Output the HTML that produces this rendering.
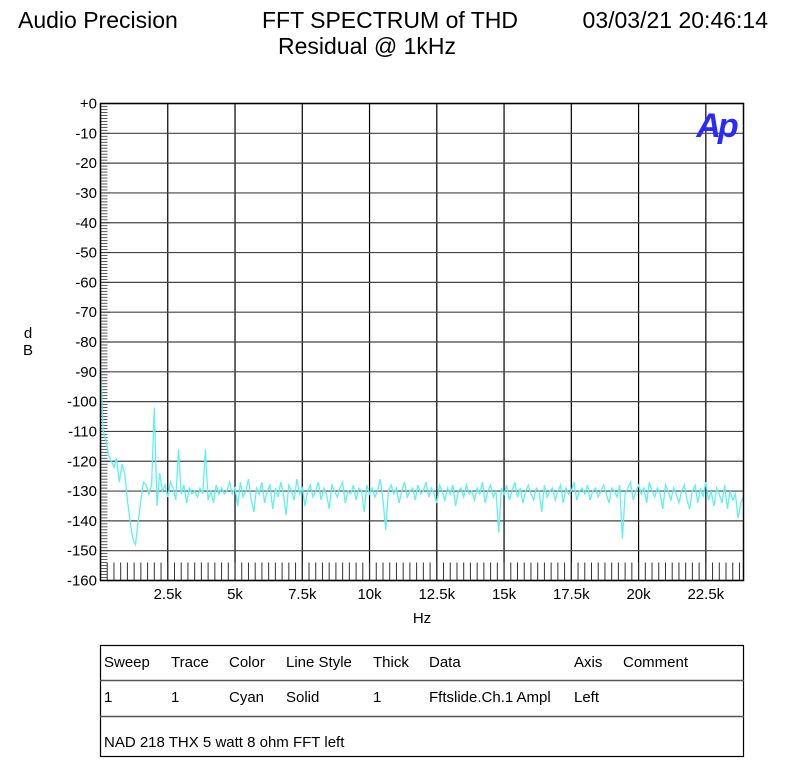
<!DOCTYPE html>
<html><head><meta charset="utf-8"><style>
body{margin:0;background:#fff;width:792px;height:775px;overflow:hidden;font-family:"Liberation Sans",sans-serif;}
svg{position:absolute;left:0;top:0}
</style></head><body>
<svg width="792" height="775" xmlns="http://www.w3.org/2000/svg">
<g font-family="Liberation Sans, sans-serif" fill="#000">
<text x="18" y="28" font-size="23">Audio Precision</text>
<text x="390" y="28" font-size="23" text-anchor="middle">FFT SPECTRUM of THD</text>
<text x="367" y="54" font-size="23" text-anchor="middle">Residual @ 1kHz</text>
<text x="768" y="28" font-size="23" text-anchor="end">03/03/21 20:46:14</text>
<text x="28" y="338" font-size="15" text-anchor="middle"><tspan x="28">d</tspan><tspan x="28" dy="17">B</tspan></text>
<text x="422" y="623" font-size="15" text-anchor="middle">Hz</text>
</g>
<g id="grid"></g>
<g id="ticks"></g>
<g id="labels" font-family="Liberation Sans, sans-serif" font-size="15" fill="#000"></g>
<path id="trace" fill="none" stroke="#5ff0f0" stroke-width="1.3"/>
<rect x="100.5" y="103.5" width="643" height="477" fill="none" stroke="#000" stroke-width="1.5"/>
<text x="716" y="137" font-family="Liberation Sans, sans-serif" font-size="34" font-weight="bold" font-style="italic" fill="#2a2aff" text-anchor="middle" letter-spacing="-3">Ap</text>
<g font-family="Liberation Sans, sans-serif" font-size="15" fill="#000">
<rect x="100.5" y="645.5" width="643" height="111" fill="none" stroke="#000" stroke-width="1.2"/>
<line x1="100" y1="680.5" x2="744" y2="680.5" stroke="#555" stroke-width="1.5"/>
<line x1="100" y1="716.5" x2="744" y2="716.5" stroke="#555" stroke-width="1.5"/>
<text y="667"><tspan x="104">Sweep</tspan><tspan x="171">Trace</tspan><tspan x="229">Color</tspan><tspan x="286">Line Style</tspan><tspan x="373">Thick</tspan><tspan x="429">Data</tspan><tspan x="574">Axis</tspan><tspan x="623">Comment</tspan></text>
<text y="702"><tspan x="104">1</tspan><tspan x="171">1</tspan><tspan x="229">Cyan</tspan><tspan x="286">Solid</tspan><tspan x="373">1</tspan><tspan x="429">Fftslide.Ch.1 Ampl</tspan><tspan x="574">Left</tspan></text>
<text x="104" y="747">NAD 218 THX 5 watt 8 ohm FFT left</text>
</g>
</svg>
<script>
const xTicks=[2500,5000,7500,10000,12500,15000,17500,20000,22500];
const xTickLabels=["2.5k","5k","7.5k","10k","12.5k","15k","17.5k","20k","22.5k"];
const yTicks=[0,-10,-20,-30,-40,-50,-60,-70,-80,-90,-100,-110,-120,-130,-140,-150,-160];
const yTickLabels=["+0","-10","-20","-30","-40","-50","-60","-70","-80","-90","-100","-110","-120","-130","-140","-150","-160"];
const freqStep=100;
const levels=[-88,-110,-113,-118,-120,-122,-119,-127,-121,-124,-133,-140,-146,-148,-140,-133,-127,-128,-131,-128,
-102,-135,-124,-130,-128,-132,-127,-129,-133,-116,-131,-128,-134,-129,-131,-130,-132,-129,-131,-116,
-133,-130,-134,-128,-131,-129,-131,-130,-127,-131,-129,-135,-127,-132,-130,-126,-133,-137,-129,-131,
-127,-134,-130,-128,-136,-129,-132,-127,-131,-138,-128,-130,-133,-126,-131,-129,-135,-130,-128,-132,
-130,-127,-133,-129,-131,-136,-128,-130,-132,-129,-127,-134,-130,-131,-128,-133,-129,-130,-137,-128,
-131,-129,-132,-130,-126,-133,-143,-130,-128,-131,-129,-134,-130,-127,-132,-130,-129,-133,-128,-131,
-130,-127,-132,-129,-131,-134,-128,-130,-133,-129,-131,-128,-135,-130,-129,-132,-128,-131,-130,-133,
-129,-131,-127,-134,-130,-128,-132,-130,-144,-129,-131,-128,-133,-130,-127,-132,-129,-134,-130,-128,
-131,-133,-129,-130,-137,-128,-132,-130,-129,-133,-130,-128,-134,-129,-131,-130,-127,-133,-130,-129,
-131,-128,-133,-130,-129,-132,-130,-128,-131,-134,-129,-130,-132,-128,-146,-131,-129,-127,-133,-130,
-128,-131,-129,-134,-127,-130,-132,-129,-131,-136,-128,-130,-133,-129,-131,-134,-130,-128,-133,-136,
-130,-128,-134,-129,-132,-127,-133,-130,-135,-129,-131,-134,-128,-136,-130,-133,-131,-139,-134,-132];
const X0=100.5,W=643,XMAX=23900,Y0=103.5,H=477,YMIN=-160,YMAX=0;
function sx(f){return X0+f/XMAX*W;}
function sy(v){return Y0+(YMAX-v)/(YMAX-YMIN)*H;}
const NS="http://www.w3.org/2000/svg";
function mk(t,a,p){const e=document.createElementNS(NS,t);for(const k in a)e.setAttribute(k,a[k]);p.appendChild(e);return e;}
const grid=document.getElementById('grid'),ticks=document.getElementById('ticks'),labels=document.getElementById('labels');
xTicks.forEach((f,i)=>{
 const l=mk('line',{x1:sx(f),x2:sx(f),y1:Y0,y2:Y0+H,stroke:'#000','stroke-width':1.2},grid);
 
 
 const t=mk('text',{x:sx(f),y:599,'text-anchor':'middle'},labels);t.textContent=xTickLabels[i];
 
 
});
yTicks.forEach((v,i)=>{
 const l=mk('line',{x1:X0,x2:X0+W,y1:sy(v),y2:sy(v),stroke:'#444','stroke-width':1.2},grid);
 
 
 const t=mk('text',{x:97,y:sy(v)+5,'text-anchor':'end'},labels);t.textContent=yTickLabels[i];
 
 
});
for(let d=0;d>=-160;d--){mk('line',{x1:X0,x2:X0+(d%10===0?9:7),y1:sy(d),y2:sy(d),stroke:'#333','stroke-width':0.8},ticks);}
for(let f=250;f<XMAX;f+=250){mk('line',{x1:sx(f),x2:sx(f),y1:Y0+H-18,y2:Y0+H,stroke:'#333','stroke-width':1},ticks);}
let d='';levels.forEach((v,i)=>{d+=(i?'L':'M')+sx(i*freqStep).toFixed(1)+','+sy(v).toFixed(1);});
document.getElementById('trace').setAttribute('d',d);
</script>
</body></html>
